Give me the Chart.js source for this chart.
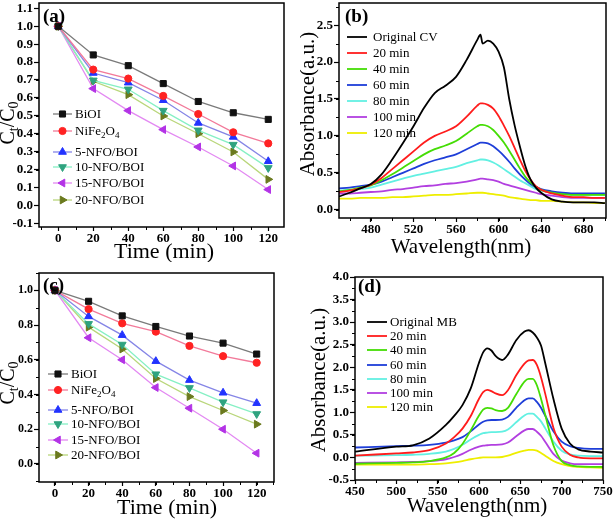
<!DOCTYPE html>
<html>
<head>
<meta charset="utf-8">
<script src="https://cdn.jsdelivr.net/npm/chart.js@4/dist/chart.umd.min.js"></script>
<style>
  html, body { margin: 0; padding: 0; background: #fff; }
  #fig { position: relative; width: 614px; height: 522px; overflow: hidden; }
  canvas { position: absolute; }
</style>
</head>
<body>
<div id="fig">
  <canvas id="ca" width="300" height="262" style="left:0;top:0"></canvas>
  <canvas id="cb" width="314" height="262" style="left:300px;top:0"></canvas>
  <canvas id="cc" width="300" height="260" style="left:0;top:262px"></canvas>
  <canvas id="cd" width="314" height="260" style="left:300px;top:262px"></canvas>
</div>
<script>
// ---- data: (a) / (c) degradation curves ----
const TIME = [0, 20, 40, 60, 80, 100, 120];
const SAMPLES = ['BiOI', 'NiFe_2O_4', '5-NFO/BOI', '10-NFO/BOI', '15-NFO/BOI', '20-NFO/BOI'];

const A_BIOI = [1.0, 0.84, 0.78, 0.68, 0.58, 0.517, 0.48];
const A_NFO  = [1.0, 0.758, 0.708, 0.611, 0.51, 0.408, 0.346];
const A_5    = [1.0, 0.739, 0.685, 0.587, 0.46, 0.382, 0.246];
const A_10   = [1.0, 0.698, 0.648, 0.529, 0.419, 0.339, 0.209];
const A_15   = [1.0, 0.652, 0.529, 0.423, 0.326, 0.22, 0.088];
const A_20   = [1.0, 0.693, 0.618, 0.499, 0.40, 0.298, 0.145];

const C_BIOI = [1.0, 0.937, 0.853, 0.792, 0.737, 0.696, 0.633];
const C_NFO  = [1.0, 0.892, 0.81, 0.762, 0.68, 0.621, 0.583];
const C_5    = [1.0, 0.85, 0.742, 0.592, 0.483, 0.41, 0.35];
const C_10   = [1.0, 0.807, 0.688, 0.517, 0.438, 0.356, 0.288];
const C_15   = [1.0, 0.727, 0.60, 0.44, 0.321, 0.20, 0.062];
const C_20   = [1.0, 0.788, 0.662, 0.492, 0.388, 0.308, 0.229];

const A_XTICKS = [0, 20, 40, 60, 80, 100, 120];
const A_YTICKS = [-0.1, 0, 0.1, 0.2, 0.3, 0.4, 0.5, 0.6, 0.7, 0.8, 0.9, 1.0, 1.1];
const C_YTICKS = [0, 0.2, 0.4, 0.6, 0.8, 1.0];

// ---- data: (b) CV spectra ----
const B_LABELS = ['Original CV', '20 min', '40 min', '60 min', '80 min', '100 min', '120 min'];
const WL_B = [450, 460, 470, 480, 490, 500, 510, 520, 530, 540, 550, 560, 570, 580, 583, 585, 590, 595, 600, 605, 610, 615, 620, 625, 630, 635, 640, 650, 660, 670, 680, 690, 700];
const B_CV  = [0.18, 0.23, 0.29, 0.35, 0.48, 0.68, 0.90, 1.13, 1.38, 1.58, 1.68, 1.80, 2.03, 2.30, 2.37, 2.25, 2.29, 2.25, 2.14, 1.93, 1.50, 1.15, 0.86, 0.60, 0.41, 0.30, 0.23, 0.14, 0.11, 0.10, 0.10, 0.10, 0.09];
const B_20  = [0.24, 0.26, 0.29, 0.34, 0.43, 0.55, 0.67, 0.79, 0.91, 1.00, 1.06, 1.13, 1.26, 1.41, 1.44, 1.44, 1.42, 1.37, 1.27, 1.14, 1.00, 0.84, 0.68, 0.53, 0.41, 0.32, 0.27, 0.22, 0.19, 0.17, 0.17, 0.16, 0.16];
const B_40  = [0.25, 0.27, 0.30, 0.33, 0.40, 0.48, 0.57, 0.66, 0.75, 0.82, 0.87, 0.93, 1.03, 1.13, 1.15, 1.15, 1.13, 1.08, 1.00, 0.91, 0.80, 0.68, 0.56, 0.45, 0.37, 0.31, 0.27, 0.23, 0.21, 0.20, 0.20, 0.20, 0.20];
const B_60  = [0.29, 0.30, 0.32, 0.34, 0.38, 0.44, 0.50, 0.56, 0.62, 0.67, 0.71, 0.75, 0.82, 0.89, 0.91, 0.91, 0.90, 0.86, 0.80, 0.73, 0.65, 0.56, 0.48, 0.41, 0.35, 0.31, 0.28, 0.25, 0.23, 0.22, 0.22, 0.22, 0.22];
const B_80  = [0.26, 0.27, 0.28, 0.30, 0.34, 0.38, 0.42, 0.46, 0.49, 0.52, 0.55, 0.58, 0.63, 0.67, 0.68, 0.68, 0.67, 0.64, 0.60, 0.55, 0.50, 0.45, 0.40, 0.36, 0.32, 0.28, 0.26, 0.23, 0.21, 0.20, 0.20, 0.20, 0.20];
const B_100 = [0.22, 0.22, 0.23, 0.24, 0.25, 0.27, 0.28, 0.30, 0.32, 0.33, 0.35, 0.36, 0.38, 0.41, 0.42, 0.42, 0.41, 0.40, 0.38, 0.35, 0.33, 0.31, 0.29, 0.27, 0.25, 0.23, 0.21, 0.19, 0.17, 0.16, 0.16, 0.16, 0.16];
const B_120 = [0.15, 0.15, 0.16, 0.16, 0.16, 0.17, 0.17, 0.18, 0.19, 0.20, 0.20, 0.21, 0.22, 0.23, 0.23, 0.23, 0.22, 0.21, 0.20, 0.19, 0.17, 0.16, 0.15, 0.14, 0.13, 0.13, 0.12, 0.12, 0.11, 0.10, 0.10, 0.09, 0.09];
const B_XTICKS = [480, 520, 560, 600, 640, 680];
const B_YTICKS = [0, 0.5, 1.0, 1.5, 2.0, 2.5];

// ---- data: (d) MB spectra ----
const D_LABELS = ['Original MB', '20 min', '40 min', '60 min', '80 min', '100 min', '120 min'];
const WL_D = [450, 500, 520, 540, 560, 570, 580, 590, 600, 605, 610, 615, 620, 628, 635, 645, 655, 660, 665, 670, 675, 680, 690, 700, 710, 720, 735, 750];
const D_MB  = [0.13, 0.24, 0.27, 0.42, 0.72, 0.92, 1.16, 1.53, 2.10, 2.33, 2.42, 2.37, 2.25, 2.16, 2.28, 2.60, 2.79, 2.82, 2.77, 2.66, 2.48, 2.10, 1.30, 0.64, 0.31, 0.18, 0.13, 0.11];
const D_20  = [0.04, 0.09, 0.11, 0.16, 0.31, 0.45, 0.64, 0.92, 1.30, 1.45, 1.50, 1.47, 1.42, 1.38, 1.49, 1.82, 2.08, 2.15, 2.16, 2.05, 1.78, 1.42, 0.66, 0.24, 0.06, 0.00, -0.02, -0.02];
const D_40  = [-0.14, -0.12, -0.11, -0.08, 0.00, 0.10, 0.30, 0.60, 0.93, 1.06, 1.10, 1.09, 1.05, 1.03, 1.10, 1.40, 1.68, 1.74, 1.74, 1.60, 1.30, 0.95, 0.27, -0.08, -0.17, -0.20, -0.21, -0.21];
const D_60  = [0.22, 0.25, 0.26, 0.28, 0.33, 0.38, 0.45, 0.58, 0.73, 0.79, 0.82, 0.83, 0.83, 0.84, 0.90, 1.10, 1.27, 1.31, 1.31, 1.23, 1.10, 0.93, 0.58, 0.35, 0.25, 0.21, 0.19, 0.19];
const D_80  = [0.04, 0.05, 0.06, 0.08, 0.13, 0.19, 0.28, 0.40, 0.50, 0.54, 0.55, 0.56, 0.56, 0.57, 0.62, 0.78, 0.93, 0.97, 0.97, 0.90, 0.80, 0.65, 0.35, 0.15, 0.07, 0.04, 0.03, 0.03];
const D_100 = [-0.12, -0.11, -0.10, -0.08, -0.04, 0.01, 0.08, 0.17, 0.24, 0.26, 0.27, 0.28, 0.28, 0.29, 0.33, 0.47, 0.60, 0.63, 0.63, 0.57, 0.48, 0.35, 0.08, -0.07, -0.13, -0.15, -0.15, -0.15];
const D_120 = [-0.16, -0.16, -0.16, -0.15, -0.13, -0.11, -0.08, -0.04, -0.01, 0.00, 0.00, 0.00, 0.00, 0.01, 0.04, 0.10, 0.15, 0.17, 0.17, 0.15, 0.10, 0.04, -0.08, -0.15, -0.19, -0.21, -0.22, -0.23];
const D_XTICKS = [450, 500, 550, 600, 650, 700, 750];
const D_YTICKS = [-0.5, 0, 0.5, 1.0, 1.5, 2.0, 2.5, 3.0, 3.5, 4.0];

// ---- styles ----
const SERIF = "'Liberation Serif', 'Times New Roman', serif";
const LINE_COLORS   = ['#7a7a7a', '#f27a9a', '#8585e6', '#86f0c4', '#e389f2', '#b9d67a'];
const MARKER_COLORS = ['#111111', '#ff2222', '#2233ff', '#2fa37f', '#b333e6', '#6b7a1e'];
const MARKERS = [
  { style: 'rect', rot: 0, r: 4.3 },
  { style: 'circle', rot: 0, r: 3.6 },
  { style: 'triangle', rot: 0, r: 4.5 },
  { style: 'triangle', rot: 180, r: 4.5 },
  { style: 'triangle', rot: -90, r: 4.5 },
  { style: 'triangle', rot: 90, r: 4.5 }
];
const SPEC_COLORS = ['#000000', '#ff1c1c', '#45dd05', '#1e3ed8', '#62f0e2', '#b23fe0', '#eeee00'];

Chart.defaults.font.family = SERIF;

// split "NiFe_2O_4" into normal / subscript pieces
function richParts(s) {
  const out = [];
  for (let i = 0; i < s.length; i++) {
    if (s[i] === '_') { out.push([s[i + 1], true]); i++; continue; }
    const last = out[out.length - 1];
    if (last && !last[1]) last[0] += s[i]; else out.push([s[i], false]);
  }
  return out;
}

function drawRich(ctx, s, x, y, size, weight, align) {
  const parts = richParts(s);
  const fnt = (sub) => `${weight || ''} ${sub ? Math.round(size * 0.68) : size}px ${SERIF}`;
  let w = 0;
  parts.forEach(p => { ctx.font = fnt(p[1]); w += ctx.measureText(p[0]).width; });
  let cx = align === 'center' ? x - w / 2 : x;
  ctx.textBaseline = 'alphabetic';
  ctx.textAlign = 'left';
  const base = y + size * 0.33;
  parts.forEach(p => {
    ctx.font = fnt(p[1]);
    ctx.fillText(p[0], cx, p[1] ? base + size * 0.2 : base);
    cx += ctx.measureText(p[0]).width;
  });
}

function drawMarker(ctx, m, x, y) {
  Chart.helpers.drawPoint(ctx, { pointStyle: m.style, rotation: m.rot, radius: m.r, borderWidth: 1 }, x, y);
}

// frame, minor ticks, panel label, legend and axis titles
const decor = {
  id: 'decor',
  afterDraw(chart, args, o) {
    const { ctx, chartArea: a } = chart;
    const xs = chart.scales.x, ys = chart.scales.y;
    ctx.save();
    ctx.strokeStyle = '#000';
    ctx.fillStyle = '#000';

    // minor ticks
    ctx.lineWidth = 1;
    ctx.beginPath();
    for (let k = Math.ceil(xs.min / o.minorX); k * o.minorX <= xs.max; k++) {
      const px = Math.round(xs.getPixelForValue(k * o.minorX)) + 0.5;
      ctx.moveTo(px, a.bottom); ctx.lineTo(px, a.bottom + 3);
    }
    for (let k = Math.ceil(ys.min / o.minorY - 1e-9); k * o.minorY <= ys.max + 1e-9; k++) {
      const py = Math.round(ys.getPixelForValue(k * o.minorY)) + 0.5;
      ctx.moveTo(a.left, py); ctx.lineTo(a.left - 3, py);
    }
    ctx.stroke();

    // frame
    ctx.lineWidth = 1.5;
    ctx.strokeRect(a.left, a.top, a.right - a.left, a.bottom - a.top);

    // panel label
    ctx.font = `bold 19px ${SERIF}`;
    ctx.textBaseline = 'middle';
    ctx.fillText(o.label, a.left + o.labelDx, a.top + o.labelDy);

    // legend
    chart.data.datasets.forEach((ds, i) => {
      const y = a.top + o.legY[i];
      const x0 = a.left + o.legX, x1 = x0 + o.legLen;
      ctx.strokeStyle = ds.borderColor;
      ctx.lineWidth = ds.borderWidth;
      ctx.beginPath(); ctx.moveTo(x0, y); ctx.lineTo(x1, y); ctx.stroke();
      if (ds.pointRadius > 0) {
        ctx.fillStyle = ds.pointBackgroundColor;
        ctx.strokeStyle = ds.pointBorderColor;
        ctx.lineWidth = 1;
        drawMarker(ctx, MARKERS[i], (x0 + x1) / 2, y);
      }
      ctx.fillStyle = '#000';
      drawRich(ctx, o.names[i], x1 + o.legGap, y, o.legSize, '', 'left');
    });

    // axis titles
    drawRich(ctx, o.xTitle, o.xTitlePos[0], o.xTitlePos[1], o.titleSize, '', 'center');
    ctx.translate(o.yTitlePos[0], o.yTitlePos[1]);
    ctx.rotate(-Math.PI / 2);
    drawRich(ctx, o.yTitle, 0, 0, o.yTitleSize, '', 'center');
    ctx.restore();
  }
};
Chart.register(decor);

function axis(min, max, ticks, size, isX, fmt, fontSize) {
  return {
    type: 'linear', min, max,
    afterBuildTicks: s => { s.ticks = ticks.map(v => ({ value: v })); },
    afterFit: s => {
      if (isX) s.height = size; else s.width = size;
      s.paddingTop = 0; s.paddingBottom = 0; s.paddingLeft = 0; s.paddingRight = 0;
    },
    ticks: { color: '#000', font: { size: fontSize || 13, weight: 'bold' }, padding: isX ? 0 : 1,
             maxRotation: 0, autoSkip: false, callback: fmt },
    grid: { drawOnChartArea: false, drawTicks: true, tickLength: isX ? 4 : 5, tickColor: '#000', tickWidth: 1.2, color: '#000' },
    border: { display: false }
  };
}

function baseOptions(scales, pad, deco) {
  return {
    responsive: false, animation: false, events: [],
    layout: { padding: pad, autoPadding: false },
    scales,
    plugins: { legend: { display: false }, tooltip: { enabled: false }, decor: deco }
  };
}

function kineticSets(rows) {
  return rows.map((row, i) => ({
    label: SAMPLES[i],
    data: TIME.map((t, j) => ({ x: t, y: row[j] })),
    borderColor: LINE_COLORS[i], borderWidth: 1.3,
    pointStyle: MARKERS[i].style, pointRotation: MARKERS[i].rot, pointRadius: MARKERS[i].r,
    pointBackgroundColor: MARKER_COLORS[i], pointBorderColor: MARKER_COLORS[i], pointBorderWidth: 1,
    tension: 0
  }));
}

function spectraSets(wl, rows, names) {
  return rows.map((row, i) => ({
    label: names[i],
    data: wl.map((w, j) => ({ x: w, y: row[j] })),
    borderColor: SPEC_COLORS[i], borderWidth: 1.8,
    pointRadius: 0, cubicInterpolationMode: 'monotone'
  }));
}

const f1 = v => v.toFixed(1);
const f0 = v => String(v);

// (a)
new Chart(document.getElementById('ca'), {
  type: 'line',
  data: { datasets: kineticSets([A_BIOI, A_NFO, A_5, A_10, A_15, A_20]) },
  options: baseOptions(
    { x: axis(-11, 129, A_XTICKS, 35, true, f0), y: axis(-0.121, 1.13, A_YTICKS, 39, false, f1) },
    { top: 3, right: 16, left: 0, bottom: 0 },
    { label: '(a)', labelDx: 4, labelDy: 14, minorX: 10, minorY: 0.1,
      names: SAMPLES, legX: 14, legLen: 19, legGap: 3, legSize: 13, legY: [111, 128, 149, 164, 180, 197],
      xTitle: 'Time (min)', xTitlePos: [164, 251], titleSize: 22,
      yTitle: 'C_t/C_0', yTitlePos: [7, 123], yTitleSize: 20 })
});

// (b)
new Chart(document.getElementById('cb'), {
  type: 'line',
  data: { datasets: spectraSets(WL_B, [B_CV, B_20, B_40, B_60, B_80, B_100, B_120], B_LABELS) },
  options: baseOptions(
    { x: axis(450, 701, B_XTICKS, 44, true, f0), y: axis(-0.112, 2.8, B_YTICKS, 39, false, f1) },
    { top: 3, right: 8, left: 0, bottom: 0 },
    { label: '(b)', labelDx: 6, labelDy: 14, minorX: 20, minorY: 0.25,
      names: B_LABELS, legX: 8, legLen: 20, legGap: 6, legSize: 13, legY: [34, 50, 66, 82, 98, 114, 130],
      xTitle: 'Wavelength(nm)', xTitlePos: [161, 246], titleSize: 21,
      yTitle: 'Absorbance(a.u.)', yTitlePos: [7, 104], yTitleSize: 21 })
});

// (c)
new Chart(document.getElementById('cc'), {
  type: 'line',
  data: { datasets: kineticSets([C_BIOI, C_NFO, C_5, C_10, C_15, C_20]) },
  options: baseOptions(
    { x: axis(-9.5, 130.3, A_XTICKS, 40, true, f0), y: axis(-0.104, 1.10, C_YTICKS, 39, false, f1, 12) },
    { top: 11, right: 26, left: 0, bottom: 0 },
    { label: '(c)', labelDx: 4, labelDy: 13, minorX: 10, minorY: 0.1,
      names: SAMPLES, legX: 9, legLen: 20, legGap: 3, legSize: 13, legY: [101, 117, 137, 151, 167, 182],
      xTitle: 'Time (min)', xTitlePos: [167, 245], titleSize: 22,
      yTitle: 'C_t/C_0', yTitlePos: [7, 121], yTitleSize: 20 })
});

// (d)
new Chart(document.getElementById('cd'), {
  type: 'line',
  data: { datasets: spectraSets(WL_D, [D_MB, D_20, D_40, D_60, D_80, D_100, D_120], D_LABELS) },
  options: baseOptions(
    { x: axis(450, 750, D_XTICKS, 42, true, f0), y: axis(-0.5, 4.0, D_YTICKS, 55, false, f1) },
    { top: 15, right: 11, left: 0, bottom: 0 },
    { label: '(d)', labelDx: 3, labelDy: 10, minorX: 25, minorY: 0.25,
      names: D_LABELS, legX: 12, legLen: 20, legGap: 3, legSize: 13, legY: [45, 59, 73, 88, 102, 116, 130],
      xTitle: 'Wavelength(nm)', xTitlePos: [177, 243], titleSize: 21,
      yTitle: 'Absorbance(a.u.)', yTitlePos: [18, 118], yTitleSize: 21 })
});
</script>
</body>
</html>
